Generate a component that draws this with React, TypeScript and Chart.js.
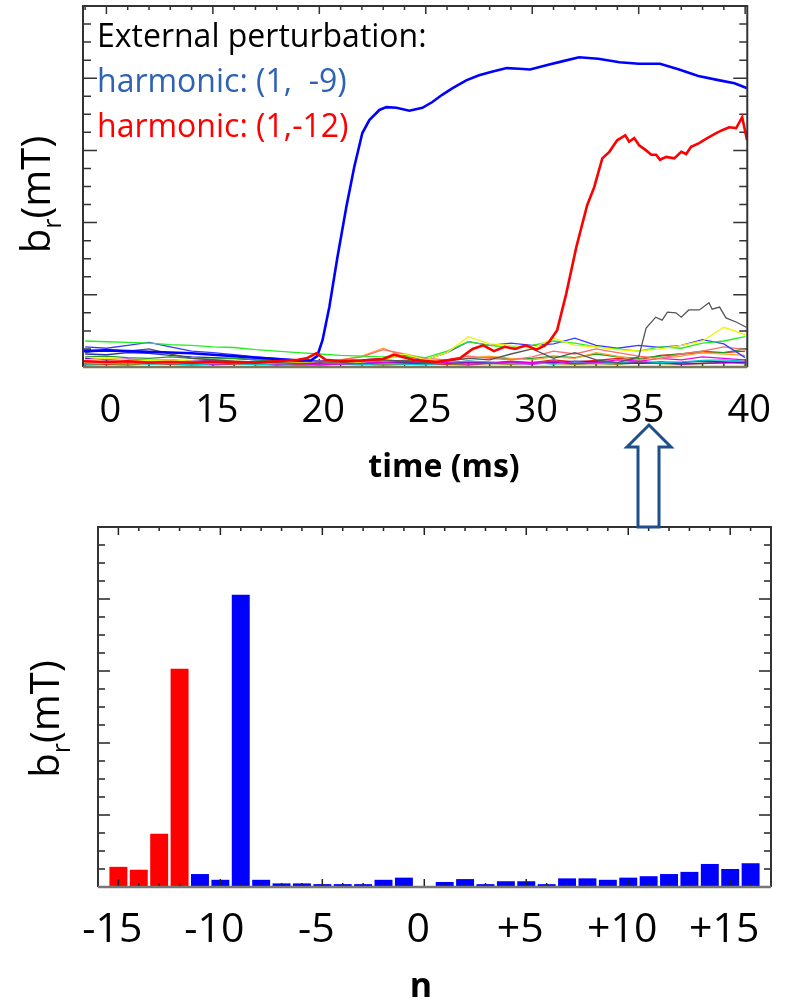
import React, { useEffect, useRef } from 'react';
import { Chart, registerables } from 'chart.js';

Chart.register(...registerables);

const FONT = '"Open Sans", "Noto Sans", "DejaVu Sans", sans-serif';

// ---------------- top panel: b_r(t) ----------------
const timeTicks = [10, 15, 20, 25, 30, 35, 40];
const timeTickLabels = ['0', '15', '20', '25', '30', '35', '40'];

// harmonic (1,-9)  (thick blue)
const h9Time = [8.9, 10, 11, 12, 13, 14, 15, 16, 17, 18, 19, 19.6, 19.9, 20.15, 20.47, 20.85, 21.27, 21.64, 22.02, 22.35, 22.82, 23.15, 23.62, 24.23, 24.84, 25.31, 25.77, 26.24, 26.9, 27.5, 28.1, 28.8, 29.4, 29.9, 30.8, 31.5, 32.2, 33.1, 34.1, 35.0, 36.0, 36.9, 37.8, 38.8, 39.5, 40.1];
const h9Br = [0.22, 0.23, 0.22, 0.21, 0.2, 0.19, 0.17, 0.15, 0.13, 0.11, 0.09, 0.09, 0.15, 0.37, 0.83, 1.52, 2.22, 2.77, 3.24, 3.42, 3.56, 3.6, 3.59, 3.55, 3.59, 3.67, 3.77, 3.86, 3.97, 4.04, 4.09, 4.14, 4.13, 4.12, 4.19, 4.24, 4.29, 4.27, 4.22, 4.2, 4.2, 4.12, 4.03, 3.97, 3.93, 3.86];

// harmonic (1,-12)  (thick red)
const h12Time = [8.9, 10, 11, 12, 13, 14, 15, 16, 17, 18, 19, 19.4, 19.86, 20.3, 21, 22, 23, 23.5, 24.4, 25.5, 26.6, 27.2, 27.7, 28.2, 28.7, 29.2, 29.7, 30.2, 30.6, 30.8, 31.17, 31.6, 32.07, 32.58, 32.91, 33.29, 33.62, 33.99, 34.37, 34.55, 34.79, 35.02, 35.35, 35.59, 35.82, 36.0, 36.29, 36.67, 37.0, 37.23, 37.46, 37.84, 38.22, 38.64, 38.92, 39.25, 39.58, 39.86, 40.09];
const h12Br = [0.08, 0.07, 0.08, 0.06, 0.07, 0.06, 0.07, 0.07, 0.06, 0.08, 0.1, 0.12, 0.19, 0.1, 0.08, 0.09, 0.11, 0.17, 0.1, 0.07, 0.12, 0.25, 0.3, 0.22, 0.28, 0.25, 0.3, 0.24, 0.3, 0.35, 0.51, 1.02, 1.66, 2.24, 2.49, 2.89, 2.98, 3.14, 3.21, 3.12, 3.17, 3.07, 3.0, 2.94, 2.94, 2.87, 2.91, 2.89, 2.98, 2.95, 3.05, 3.1, 3.17, 3.24, 3.28, 3.32, 3.31, 3.46, 3.14];

// grey mode
const greyTime = [9, 10, 11, 12, 13, 14, 15, 16, 17, 18, 19, 20, 21, 22, 23, 24, 25, 26, 27, 28, 29, 30, 31, 32, 33, 34, 35.0, 35.35, 35.8, 36.1, 36.35, 36.75, 37.0, 37.35, 37.85, 38.3, 38.45, 38.8, 39.1, 39.6, 40.05];
const greyBr = [0.2, 0.24, 0.22, 0.25, 0.18, 0.12, 0.1, 0.08, 0.07, 0.06, 0.05, 0.05, 0.06, 0.08, 0.1, 0.08, 0.06, 0.08, 0.12, 0.1, 0.18, 0.25, 0.12, 0.2, 0.1, 0.06, 0.14, 0.54, 0.69, 0.65, 0.76, 0.75, 0.69, 0.79, 0.79, 0.89, 0.8, 0.83, 0.68, 0.62, 0.55];

// other modes, sampled every 1 ms from 9 to 40 ms
const modeTime = [9, 10, 11, 12, 13, 14, 15, 16, 17, 18, 19, 20, 21, 22, 23, 24, 25, 26, 27, 28, 29, 30, 31, 32, 33, 34, 35, 36, 37, 38, 39, 40];
const yellowBr = [0.1, 0.12, 0.1, 0.09, 0.1, 0.08, 0.07, 0.08, 0.06, 0.07, 0.06, 0.05, 0.06, 0.07, 0.1, 0.18, 0.1, 0.2, 0.42, 0.32, 0.3, 0.26, 0.4, 0.3, 0.28, 0.24, 0.22, 0.25, 0.3, 0.36, 0.55, 0.45];
const greenBr = [0.36, 0.35, 0.34, 0.33, 0.31, 0.3, 0.28, 0.27, 0.24, 0.22, 0.2, 0.18, 0.16, 0.15, 0.14, 0.15, 0.13, 0.22, 0.35, 0.3, 0.27, 0.3, 0.36, 0.33, 0.28, 0.25, 0.22, 0.28, 0.26, 0.33, 0.36, 0.42];
const blueThinBr = [0.28, 0.26, 0.3, 0.34, 0.28, 0.22, 0.2, 0.17, 0.14, 0.12, 0.1, 0.08, 0.09, 0.1, 0.12, 0.16, 0.1, 0.2, 0.35, 0.3, 0.33, 0.3, 0.32, 0.4, 0.3, 0.26, 0.3, 0.27, 0.3, 0.38, 0.32, 0.13];
const pinkBr = [0.1, 0.12, 0.1, 0.08, 0.09, 0.07, 0.08, 0.06, 0.07, 0.05, 0.06, 0.08, 0.1, 0.14, 0.24, 0.18, 0.12, 0.1, 0.15, 0.12, 0.1, 0.14, 0.22, 0.18, 0.25, 0.2, 0.15, 0.12, 0.18, 0.22, 0.28, 0.24];
const orangeBr = [0.06, 0.05, 0.07, 0.06, 0.05, 0.06, 0.05, 0.07, 0.06, 0.05, 0.06, 0.08, 0.1, 0.15, 0.26, 0.14, 0.08, 0.1, 0.12, 0.15, 0.12, 0.1, 0.14, 0.12, 0.2, 0.15, 0.1, 0.12, 0.15, 0.2, 0.18, 0.16];
const magentaBr = [0.08, 0.07, 0.06, 0.08, 0.05, 0.06, 0.04, 0.05, 0.06, 0.04, 0.05, 0.03, 0.04, 0.05, 0.06, 0.08, 0.05, 0.06, 0.04, 0.05, 0.07, 0.06, 0.08, 0.05, 0.06, 0.1, 0.08, 0.12, 0.1, 0.14, 0.12, 0.1];
const cyanBr = [0.04, 0.05, 0.06, 0.04, 0.05, 0.03, 0.04, 0.05, 0.03, 0.04, 0.02, 0.03, 0.04, 0.03, 0.05, 0.04, 0.03, 0.06, 0.08, 0.07, 0.05, 0.06, 0.04, 0.07, 0.05, 0.06, 0.08, 0.06, 0.07, 0.09, 0.1, 0.08];
const purpleBr = [0.12, 0.1, 0.11, 0.09, 0.1, 0.08, 0.09, 0.07, 0.06, 0.07, 0.05, 0.06, 0.04, 0.05, 0.06, 0.05, 0.04, 0.05, 0.07, 0.06, 0.05, 0.04, 0.06, 0.05, 0.07, 0.06, 0.05, 0.06, 0.04, 0.05, 0.06, 0.07];
const oliveBr = [0.03, 0.04, 0.03, 0.05, 0.04, 0.03, 0.04, 0.05, 0.04, 0.03, 0.04, 0.03, 0.05, 0.04, 0.03, 0.04, 0.05, 0.04, 0.03, 0.05, 0.04, 0.06, 0.05, 0.04, 0.05, 0.04, 0.06, 0.05, 0.04, 0.05, 0.06, 0.05];
const darkGreenBr = [0.14, 0.15, 0.13, 0.12, 0.14, 0.12, 0.11, 0.12, 0.1, 0.09, 0.1, 0.08, 0.09, 0.07, 0.08, 0.09, 0.07, 0.1, 0.12, 0.14, 0.11, 0.12, 0.15, 0.13, 0.18, 0.14, 0.12, 0.15, 0.18, 0.22, 0.2, 0.25];
const navyBr = [0.18, 0.17, 0.2, 0.19, 0.16, 0.14, 0.13, 0.12, 0.1, 0.09, 0.08, 0.07, 0.06, 0.05, 0.06, 0.07, 0.05, 0.06, 0.08, 0.06, 0.07, 0.05, 0.06, 0.08, 0.07, 0.06, 0.05, 0.07, 0.06, 0.08, 0.07, 0.06];
const redThinBr = [0.05, 0.04, 0.06, 0.05, 0.04, 0.05, 0.03, 0.04, 0.05, 0.03, 0.04, 0.05, 0.06, 0.04, 0.05, 0.07, 0.05, 0.04, 0.06, 0.05, 0.08, 0.06, 0.1, 0.07, 0.09, 0.12, 0.1, 0.16, 0.18, 0.2, 0.2, 0.22];

const legendLines = ['External perturbation:', 'harmonic: (1,  -9)', 'harmonic: (1,-12)'];
const legendColors = ['#000000', '#2F62B3', '#FF0000'];

// ---------------- bottom panel: spectrum at 35 ms ----------------
const nRed = [-15, -14, -13, -12];
const brRed = [0.28, 0.24, 0.74, 3.03];
const nBlue = [-11, -10, -9, -8, -7, -6, -5, -4, -3, -2, -1, 1, 2, 3, 4, 5, 6, 7, 8, 9, 10, 11, 12, 13, 14, 15, 16];
const brBlue = [0.18, 0.1, 4.06, 0.1, 0.05, 0.05, 0.04, 0.04, 0.04, 0.1, 0.13, 0.07, 0.11, 0.04, 0.08, 0.08, 0.04, 0.12, 0.12, 0.1, 0.13, 0.15, 0.18, 0.21, 0.32, 0.25, 0.33];
const nTicks = [-15, -10, -5, 0, 5, 10, 15];
const nTickLabels = ['-15', '-10', '-5', '0', '+5', '+10', '+15'];

// ---------------- helpers ----------------
type Frame = {
  yStep: number; yMajor: number; yMajLen: number; yMinLen: number;
  xStep: number; xMajor: number; xMajLen: number; xMinLen: number; color: string;
};

function drawTicks(chart: any, f: Frame) {
  const { ctx, chartArea: a } = chart;
  const xs = chart.scales.x, ys = chart.scales.y;
  ctx.save();
  ctx.strokeStyle = f.color;
  ctx.lineWidth = 1.5;
  ctx.beginPath();
  const nY = Math.round((ys.max - ys.min) / f.yStep);
  for (let i = 0; i <= nY; i++) {
    const v = ys.min + i * f.yStep;
    const py = ys.getPixelForValue(v);
    const major = Math.abs(v / f.yMajor - Math.round(v / f.yMajor)) < 1e-6;
    const L = major ? f.yMajLen : f.yMinLen;
    ctx.moveTo(a.left, py); ctx.lineTo(a.left + L, py);
    ctx.moveTo(a.right, py); ctx.lineTo(a.right - L, py);
  }
  const start = Math.ceil(xs.min / f.xStep) * f.xStep;
  for (let v = start; v <= xs.max + 1e-9; v += f.xStep) {
    const px = xs.getPixelForValue(v);
    const major = Math.abs(v / f.xMajor - Math.round(v / f.xMajor)) < 1e-6;
    const L = major ? f.xMajLen : f.xMinLen;
    ctx.moveTo(px, a.top); ctx.lineTo(px, a.top + L);
    ctx.moveTo(px, a.bottom); ctx.lineTo(px, a.bottom - L);
  }
  ctx.stroke();
  ctx.restore();
}

function drawBox(chart: any, color: string, bottomColor: string) {
  const { ctx, chartArea: a } = chart;
  ctx.save();
  ctx.lineWidth = 2;
  ctx.strokeStyle = color;
  ctx.beginPath();
  ctx.moveTo(a.left, a.bottom); ctx.lineTo(a.left, a.top); ctx.lineTo(a.right, a.top); ctx.lineTo(a.right, a.bottom);
  ctx.stroke();
  ctx.strokeStyle = bottomColor;
  ctx.lineWidth = 2.5;
  ctx.beginPath();
  ctx.moveTo(a.left, a.bottom); ctx.lineTo(a.right, a.bottom);
  ctx.stroke();
  ctx.restore();
}

function drawBrTitle(ctx: CanvasRenderingContext2D, bx: number, cy: number) {
  const big = `40px ${FONT}`;
  const small = `25px ${FONT}`;
  ctx.save();
  ctx.translate(bx, cy);
  ctx.rotate(-Math.PI / 2);
  ctx.fillStyle = '#000';
  ctx.textAlign = 'left';
  ctx.textBaseline = 'alphabetic';
  ctx.font = big;
  const wb = ctx.measureText('b').width;
  const wRest = ctx.measureText('(mT)').width;
  ctx.font = small;
  const wr = ctx.measureText('r').width;
  let x = -(wb + wr + wRest) / 2;
  ctx.font = big; ctx.fillText('b', x, 0); x += wb;
  ctx.font = small; ctx.fillText('r', x, 11); x += wr;
  ctx.font = big; ctx.fillText('(mT)', x, 0);
  ctx.restore();
}

const topFrame: Frame = { yStep: 0.25, yMajor: 1, yMajLen: 14, yMinLen: 8, xStep: 1, xMajor: 5, xMajLen: 8, xMinLen: 4, color: '#333' };
const botFrame: Frame = { yStep: 0.25, yMajor: 1, yMajLen: 12, yMinLen: 7, xStep: 1, xMajor: 5, xMajLen: 8, xMinLen: 4, color: '#222' };

const topDecor = {
  id: 'topDecor',
  beforeDatasetsDraw(chart: any) {
    drawTicks(chart, topFrame);
  },
  afterDatasetsDraw(chart: any) {
    drawBox(chart, '#333', '#7a7a5a');
  },
  afterDraw(chart: any) {
    const { ctx, chartArea: a } = chart;
    ctx.save();
    ctx.font = `32px ${FONT}`;
    ctx.textAlign = 'left';
    ctx.textBaseline = 'alphabetic';
    legendLines.forEach((s, i) => {
      ctx.fillStyle = legendColors[i];
      ctx.fillText(s, a.left + 14, a.top + 41 + i * 45);
    });
    ctx.font = `bold 32px ${FONT}`;
    ctx.fillStyle = '#000';
    ctx.textAlign = 'center';
    ctx.fillText('time (ms)', 444, a.bottom + 110);
    ctx.restore();
    drawBrTitle(ctx, 50, (a.top + a.bottom) / 2 + 8);
  },
};

const botDecor = {
  id: 'botDecor',
  afterDatasetsDraw(chart: any) {
    drawTicks(chart, botFrame);
    drawBox(chart, '#333', '#777');
  },
  afterDraw(chart: any) {
    const { ctx, chartArea: a } = chart;
    ctx.save();
    ctx.font = `bold 34px ${FONT}`;
    ctx.fillStyle = '#000';
    ctx.textAlign = 'center';
    ctx.textBaseline = 'alphabetic';
    ctx.fillText('n', 421, a.bottom + 110);
    ctx.restore();
    drawBrTitle(ctx, 59, (a.top + a.bottom) / 2 + 12);
  },
};

const series = (label: string, t: number[], v: number[], color: string, width: number) => ({
  label,
  data: t.map((x, i) => ({ x, y: v[i] })),
  borderColor: color,
  backgroundColor: color,
  borderWidth: width,
  pointRadius: 0,
  tension: 0,
  fill: false,
});

function topConfig(): any {
  return {
    type: 'line',
    data: {
      datasets: [
        series('(1,-12)', h12Time, h12Br, '#FF0000', 2.6),
        series('(1,-9)', h9Time, h9Br, '#0000FF', 2.6),
        series('grey', greyTime, greyBr, '#555555', 1.3),
        series('yellow', modeTime, yellowBr, '#F2F200', 1.3),
        series('green', modeTime, greenBr, '#22EE22', 1.3),
        series('blue', modeTime, blueThinBr, '#3A3AFF', 1.3),
        series('pink', modeTime, pinkBr, '#FF6A6A', 1.3),
        series('orange', modeTime, orangeBr, '#FFA030', 1.3),
        series('magenta', modeTime, magentaBr, '#EE00EE', 1.3),
        series('cyan', modeTime, cyanBr, '#00C8D0', 1.3),
        series('purple', modeTime, purpleBr, '#8A00C8', 1.3),
        series('darkgreen', modeTime, darkGreenBr, '#22A022', 1.3),
        series('navy', modeTime, navyBr, '#3030A8', 1.3),
        series('red thin', modeTime, redThinBr, '#E02020', 1.3),
        series('olive', modeTime, oliveBr, '#8C8C2C', 1.6),
      ],
    },
    options: {
      responsive: false,
      animation: false,
      devicePixelRatio: 1,
      layout: { padding: { left: 83, right: 40, top: 6, bottom: 0 } },
      plugins: { legend: { display: false }, tooltip: { enabled: false } },
      scales: {
        x: {
          type: 'linear',
          min: 8.9,
          max: 40.1,
          grid: { display: false, drawTicks: false },
          border: { display: false },
          afterBuildTicks: (s: any) => { s.ticks = timeTicks.map((v) => ({ value: v })); },
          afterFit: (s: any) => { s.height = 133; },
          ticks: {
            autoSkip: false,
            maxRotation: 0,
            padding: 21,
            labelOffset: 4,
            color: '#000',
            font: { family: FONT, size: 38 },
            callback: (_v: any, i: number) => timeTickLabels[i],
          },
        },
        y: { display: false, min: 0, max: 5 },
      },
    },
    plugins: [topDecor],
  };
}

function botConfig(): any {
  return {
    type: 'bar',
    data: {
      datasets: [
        {
          label: 'n <= -12',
          data: nRed.map((n, i) => ({ x: n, y: brRed[i] })),
          backgroundColor: '#FF0000',
          grouped: false,
          barPercentage: 0.88,
          categoryPercentage: 1,
        },
        {
          label: 'n > -12',
          data: nBlue.map((n, i) => ({ x: n, y: brBlue[i] })),
          backgroundColor: '#0000FF',
          grouped: false,
          barPercentage: 0.88,
          categoryPercentage: 1,
        },
      ],
    },
    options: {
      responsive: false,
      animation: false,
      devicePixelRatio: 1,
      layout: { padding: { left: 98, right: 17, top: 27, bottom: 0 } },
      plugins: { legend: { display: false }, tooltip: { enabled: false } },
      scales: {
        x: {
          type: 'linear',
          min: -16,
          max: 17,
          offset: false,
          grid: { display: false, drawTicks: false },
          border: { display: false },
          afterBuildTicks: (s: any) => { s.ticks = nTicks.map((v) => ({ value: v })); },
          afterFit: (s: any) => { s.height = 113; },
          ticks: {
            autoSkip: false,
            maxRotation: 0,
            padding: 19,
            labelOffset: -6,
            color: '#000',
            font: { family: FONT, size: 41 },
            callback: (_v: any, i: number) => nTickLabels[i],
          },
        },
        y: { display: false, min: 0, max: 5 },
      },
    },
    plugins: [botDecor],
  };
}

export default function App() {
  const topRef = useRef<HTMLCanvasElement>(null);
  const botRef = useRef<HTMLCanvasElement>(null);

  useEffect(() => {
    const top = new Chart(topRef.current as HTMLCanvasElement, topConfig());
    const bot = new Chart(botRef.current as HTMLCanvasElement, botConfig());
    return () => {
      top.destroy();
      bot.destroy();
    };
  }, []);

  return (
    <div style={{ position: 'absolute', left: 0, top: 0, width: 788, height: 1000, background: '#fff', overflow: 'hidden' }}>
      <canvas ref={topRef} width={788} height={500} style={{ position: 'absolute', left: 0, top: 0, width: 788, height: 500 }} />
      <canvas ref={botRef} width={788} height={500} style={{ position: 'absolute', left: 0, top: 500, width: 788, height: 500 }} />
      <svg width={788} height={1000} style={{ position: 'absolute', left: 0, top: 0, pointerEvents: 'none' }}>
        <polygon
          points="649,425 671,447 659,447 659,527 638,527 638,447 627,447"
          fill="#ffffff"
          stroke="#1F4E8C"
          strokeWidth={3}
          strokeLinejoin="miter"
        />
      </svg>
    </div>
  );
}
